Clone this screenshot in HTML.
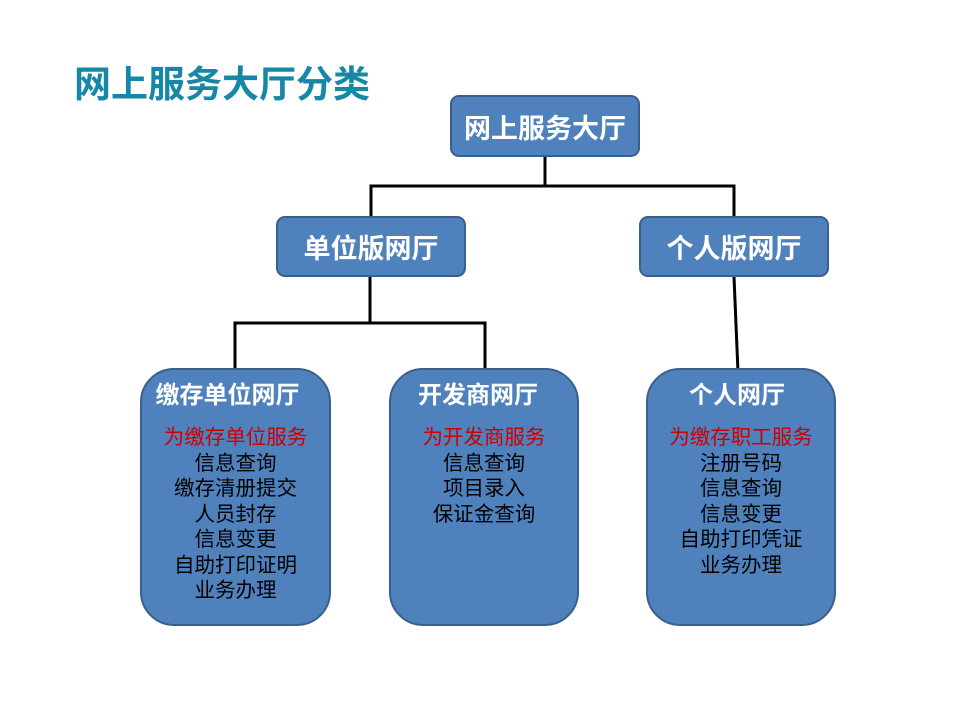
<!DOCTYPE html>
<html><head><meta charset="utf-8"><style>
body{margin:0;width:960px;height:720px;background:#fff;position:relative;overflow:hidden;font-family:"Liberation Sans","Noto Sans CJK SC",sans-serif}
.t{position:absolute;left:74px;top:60px;font-size:37px;font-weight:bold;color:#1687a7;letter-spacing:0px;line-height:50px}
.b{position:absolute;box-sizing:border-box;background:#4f81bd;border:2px solid #3a5f8c;border-radius:9px;color:#fff;font-weight:bold;font-size:27px;display:flex;align-items:center;justify-content:center}
.c{position:absolute;box-sizing:border-box;background:#4f81bd;border:2px solid #3a5f8c;border-radius:34px;text-align:center}
.c h3{margin:0;position:absolute;left:0;right:12px;top:8px;font-size:24px;line-height:36px;color:#fff;font-weight:bold}
.c .l{position:absolute;left:0;right:0;top:55px;font-size:20.5px;line-height:25.5px;color:#000}
.r{color:#c00}
</style></head><body>
<div class="t">网上服务大厅分类</div>
<svg width="960" height="720" style="position:absolute;left:0;top:0">
<g stroke="#000" stroke-width="3" fill="none">
<polyline points="545,157 545,186"/>
<polyline points="371,217 371,186 734,186 734,217"/>
<polyline points="370,277 370,323"/>
<polyline points="235,370 235,323 485,323 485,370"/>
<line x1="734" y1="277" x2="738" y2="372"/>
</g></svg>
<div class="b" style="left:450px;top:95px;width:190px;height:62px">网上服务大厅</div>
<div class="b" style="left:276px;top:216px;width:190px;height:61px">单位版网厅</div>
<div class="b" style="left:639px;top:216px;width:190px;height:61px">个人版网厅</div>
<div class="c" style="left:140px;top:368px;width:191px;height:258px"><h3 style="right:16px">缴存单位网厅</h3><div class="l"><span class="r">为缴存单位服务</span><br>信息查询<br>缴存清册提交<br>人员封存<br>信息变更<br>自助打印证明<br>业务办理</div></div>
<div class="c" style="left:389px;top:368px;width:190px;height:258px"><h3>开发商网厅</h3><div class="l"><span class="r">为开发商服务</span><br>信息查询<br>项目录入<br>保证金查询</div></div>
<div class="c" style="left:646px;top:368px;width:190px;height:258px"><h3 style="right:8px">个人网厅</h3><div class="l"><span class="r">为缴存职工服务</span><br>注册号码<br>信息查询<br>信息变更<br>自助打印凭证<br>业务办理</div></div>
</body></html>
